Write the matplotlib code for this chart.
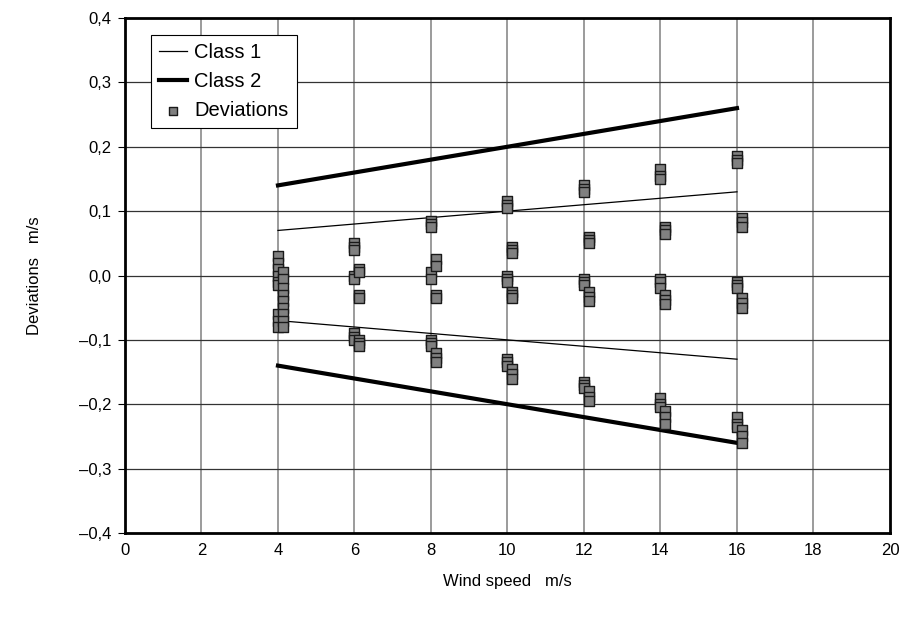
import matplotlib.pyplot as plt
from matplotlib.ticker import FuncFormatter

plt.rcParams['font.family'] = ['Liberation Sans', 'DejaVu Sans']

# wind speed bins and class limits
class_x = [4, 16]
class1_hi = [0.07, 0.13]
class1_lo = [-0.07, -0.13]
class2_hi = [0.14, 0.26]
class2_lo = [-0.14, -0.26]

# deviations, left column (at the bin) and right column (slightly shifted)
dev_speeds = [4, 6, 8, 10, 12, 14, 16]
dev_left = [
    [0.03, 0.02, 0.01, 0.0, -0.01, -0.015, -0.06, -0.07, -0.08],
    [0.05, 0.045, 0.04, 0.0, -0.005, -0.09, -0.095, -0.1],
    [0.085, 0.08, 0.075, 0.005, -0.005, -0.1, -0.105, -0.11],
    [0.115, 0.11, 0.105, 0.0, -0.005, -0.01, -0.13, -0.135, -0.14],
    [0.14, 0.135, 0.13, -0.005, -0.01, -0.015, -0.165, -0.17, -0.175],
    [0.165, 0.155, 0.15, -0.005, -0.01, -0.02, -0.19, -0.2, -0.205],
    [0.185, 0.18, 0.175, -0.01, -0.015, -0.02, -0.22, -0.23, -0.235],
]
dev_right = [
    [0.005, -0.005, -0.02, -0.03, -0.04, -0.05, -0.06, -0.07, -0.08],
    [0.01, 0.005, -0.03, -0.035, -0.1, -0.105, -0.11],
    [0.025, 0.015, -0.03, -0.035, -0.12, -0.128, -0.135],
    [0.045, 0.04, 0.035, -0.025, -0.03, -0.035, -0.145, -0.153, -0.16],
    [0.06, 0.055, 0.05, -0.025, -0.033, -0.04, -0.18, -0.188, -0.195],
    [0.075, 0.07, 0.065, -0.03, -0.038, -0.045, -0.21, -0.22, -0.23],
    [0.09, 0.083, 0.075, -0.035, -0.043, -0.05, -0.24, -0.25, -0.26],
]
shift = 0.12

fig = plt.figure(figsize=(9.03, 6.21), dpi=100)
ax = fig.add_axes([0.1384, 0.1417, 0.8472, 0.8293])

for xv in range(2, 20, 2):
    ax.axvline(xv, color='#808080', lw=1.1, zorder=1)
for i in range(-3, 4):
    ax.axhline(i / 10, color='#333333', lw=0.9, zorder=1)

ax.plot(class_x, class1_hi, color='black', lw=0.9, label='Class 1', zorder=2)
ax.plot(class_x, class1_lo, color='black', lw=0.9, zorder=2)
ax.plot(class_x, class2_hi, color='black', lw=3, label='Class 2', zorder=2)
ax.plot(class_x, class2_lo, color='black', lw=3, zorder=2)

xs, ys = [], []
for s, left, right in zip(dev_speeds, dev_left, dev_right):
    xs += [s] * len(left) + [s + shift] * len(right)
    ys += left + right
ax.scatter(xs, ys, marker='s', s=55, facecolor='#808080', edgecolor='#1a1a1a',
           linewidth=1, label='Deviations', zorder=3)

ax.set_xlim(0, 20)
ax.set_ylim(-0.4, 0.4)
ax.set_xticks(range(0, 21, 2))
ax.set_yticks([i / 10 for i in range(-4, 5)])
ax.yaxis.set_major_formatter(FuncFormatter(
    lambda v, p: ('%.1f' % v).replace('.', ',').replace('-', '\u2013') if abs(v) > 1e-9 else '0,0'))
ax.tick_params(axis='x', length=0, pad=7, labelsize=12)
ax.tick_params(axis='y', length=5, width=0.8, pad=5, labelsize=12)
for sp in ax.spines.values():
    sp.set_linewidth(2)

ax.set_xlabel('Wind speed   m/s', fontsize=12, labelpad=12)
ax.set_ylabel('Deviations   m/s', fontsize=12, labelpad=26)

leg = ax.legend(loc='upper left', bbox_to_anchor=(0.034, 0.967), fontsize=14.5,
                fancybox=False, edgecolor='black', framealpha=1, handlelength=1.4,
                handletextpad=0.35, borderaxespad=0, borderpad=0.4, labelspacing=0.5,
                markerscale=0.7)
leg.get_frame().set_linewidth(0.8)

fig.savefig('out.png', dpi=100)
